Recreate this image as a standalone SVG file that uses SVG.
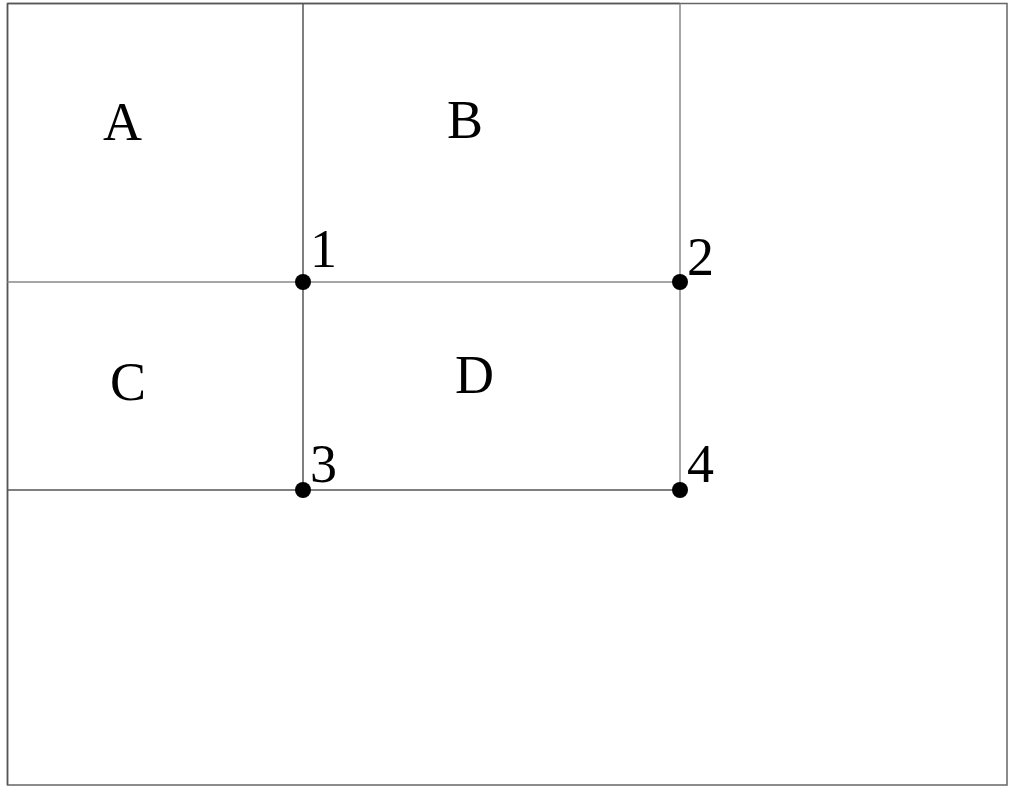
<svg xmlns="http://www.w3.org/2000/svg" width="1012" height="788" viewBox="0 0 1012 788">
<style>
.frame{fill:none;stroke:#666;stroke-width:1.5}
.ln{stroke:#555;stroke-width:1.5;fill:none}
.lg{stroke:#888;stroke-width:1.5;fill:none}
.dot{fill:#000}
text{font-family:"Liberation Serif","Times New Roman",serif;font-size:54px;fill:#000}
</style>
<rect width="1012" height="788" fill="#fff"/>
<rect class="frame" x="7.5" y="3.5" width="999.5" height="781.5"/>
<g id="connectors">
<line class="ln" x1="7.5" y1="3.5" x2="680" y2="3.5"/>
<line class="ln" x1="7.5" y1="3.5" x2="7.5" y2="785"/>
<line class="ln" x1="303" y1="3.5" x2="303" y2="490"/>
<line class="lg" x1="680" y1="3.5" x2="680" y2="490"/>
<line class="lg" x1="7.5" y1="282" x2="680" y2="282"/>
<line class="ln" x1="7.5" y1="490" x2="680" y2="490"/>
</g>
<g id="A"><text x="103" y="140">A</text></g>
<g id="B"><text x="447" y="138">B</text></g>
<g id="C"><text x="110" y="400">C</text></g>
<g id="D"><text x="455" y="393">D</text></g>
<g id="p1"><circle class="dot" cx="303" cy="282" r="8"/><text x="310" y="267">1</text></g>
<g id="p2"><circle class="dot" cx="680" cy="282" r="8"/><text x="687" y="275">2</text></g>
<g id="p3"><circle class="dot" cx="303" cy="490" r="8"/><text x="310" y="482">3</text></g>
<g id="p4"><circle class="dot" cx="680" cy="490" r="8"/><text x="687" y="482">4</text></g>
</svg>
